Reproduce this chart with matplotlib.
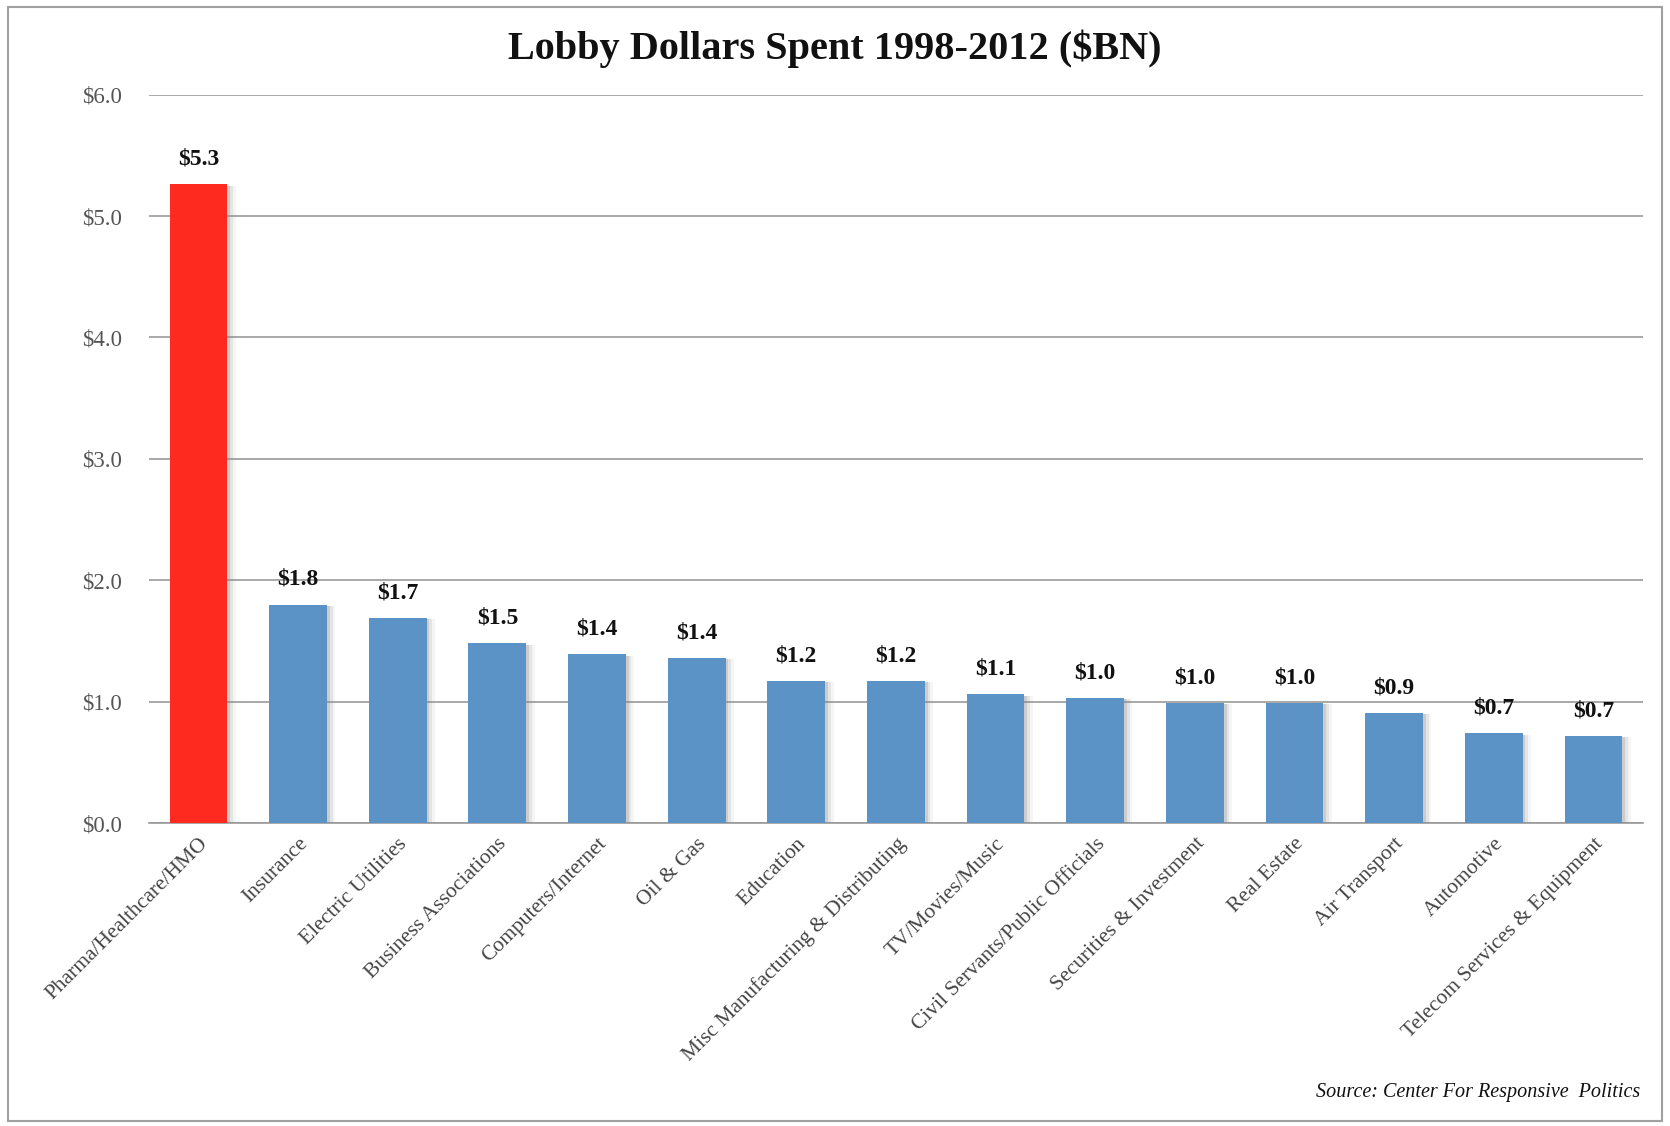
import matplotlib
matplotlib.use('Agg')
import matplotlib.pyplot as plt
import matplotlib.patheffects as pe
from matplotlib.patches import Rectangle

# lobbying spend by industry, 1998-2012, in $BN
industries = ['Pharma/Healthcare/HMO', 'Insurance', 'Electric Utilities',
              'Business Associations', 'Computers/Internet', 'Oil & Gas',
              'Education', 'Misc Manufacturing & Distributing', 'TV/Movies/Music',
              'Civil Servants/Public Officials', 'Securities & Investment',
              'Real Estate', 'Air Transport', 'Automotive',
              'Telecom Services & Equipment']
spent = [5.26, 1.80, 1.69, 1.48, 1.39, 1.36, 1.17, 1.17, 1.06, 1.03,
         0.99, 0.99, 0.91, 0.74, 0.72]
yticks = [0, 1, 2, 3, 4, 5, 6]

plt.rcParams['font.family'] = ['Liberation Serif', 'DejaVu Serif']

fig = plt.figure(figsize=(16.7, 11.26), dpi=100)
ax = fig.add_axes([0.089, 0.269, 0.895, 0.647])

colors = ['#FF2A1F'] + ['#5B93C6'] * (len(spent) - 1)
x = range(len(spent))
bars = ax.bar(x, spent, width=0.58, color=colors, zorder=3)
# soft drop shadow on the right of each bar
shadow = [pe.SimplePatchShadow(offset=(d, -1), shadow_rgbFace='#888888', alpha=a)
          for d, a in [(6, 0.08), (4, 0.15), (2, 0.25)]]
for b in bars:
    b.set_path_effects(shadow + [pe.Normal()])

# value labels over each bar
for i, v in enumerate(spent):
    ax.text(i, v + 0.12, '$%.1f' % v, ha='center', va='bottom',
            fontsize=17, fontweight='bold', color='#111111')

ax.set_xlim(-0.5, len(spent) - 0.5)
ax.set_ylim(0, 6)
ax.set_yticks(yticks)
ax.set_yticklabels(['$%.1f' % t for t in yticks], fontsize=16.5, color='#555555')
ax.yaxis.grid(True, color='#9a9a9a', linewidth=1.2, zorder=0)
ax.tick_params(axis='y', length=0, pad=19)
ax.tick_params(axis='x', length=0, pad=8)

ax.set_xticks(list(x))
ax.set_xticklabels(industries, rotation=45, ha='right', rotation_mode='anchor',
                   fontsize=15.5, color='#444444')

for s in ['top', 'right', 'left']:
    ax.spines[s].set_visible(False)
ax.spines['bottom'].set_color('#9a9a9a')
ax.spines['bottom'].set_linewidth(1.2)

fig.text(0.5, 0.957, 'Lobby Dollars Spent 1998-2012 ($BN)', ha='center', va='center',
         fontsize=29, fontweight='bold', color='#111111')
fig.text(0.982, 0.03, 'Source: Center For Responsive  Politics', ha='right', va='center',
         fontsize=14.5, style='italic', color='#111111')

# thin border round the whole chart
fig.add_artist(Rectangle((0.005, 0.004), 0.99, 0.99, transform=fig.transFigure,
                         fill=False, edgecolor='#a0a0a0', linewidth=1.5))

fig.savefig('out.png', dpi=100, facecolor='white')
